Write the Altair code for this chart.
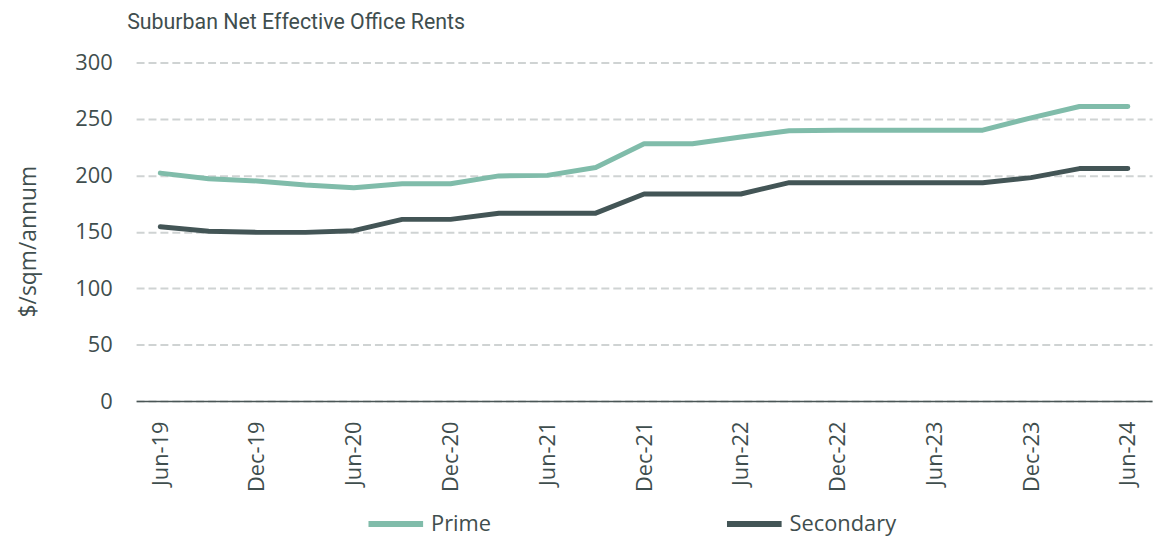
import altair as alt
import pandas as pd

quarters = ["Jun-19", "Sep-19", "Dec-19", "Mar-20", "Jun-20", "Sep-20", "Dec-20",
            "Mar-21", "Jun-21", "Sep-21", "Dec-21", "Mar-22", "Jun-22", "Sep-22",
            "Dec-22", "Mar-23", "Jun-23", "Sep-23", "Dec-23", "Mar-24", "Jun-24"]
prime = [202, 197, 195, 191.5, 189, 192.5, 192.5, 199.5, 200, 207, 228, 228, 234,
         239.5, 240, 240, 240, 240, 251, 261, 261]
secondary = [154.5, 150.5, 149.5, 149.5, 151, 161, 161, 166.5, 166.5, 166.5, 183.5,
             183.5, 183.5, 193.5, 193.5, 193.5, 193.5, 193.5, 198, 206, 206]
shown_labels = quarters[::2]
series_names = ["Prime", "Secondary"]
series_colors = ["#80bcaa", "#435556"]

rows = []
for i, q in enumerate(quarters):
    rows.append({"quarter": q, "series": "Prime", "value": prime[i]})
    rows.append({"quarter": q, "series": "Secondary", "value": secondary[i]})
df = pd.DataFrame(rows)

FONT = "Open Sans"
TXT = "#3f4e4e"

chart = alt.Chart(df).mark_line(strokeWidth=5, strokeCap="round", strokeJoin="round").encode(
    x=alt.X("quarter:O", sort=quarters,
            scale=alt.Scale(type="point", padding=0.5),
            axis=alt.Axis(title=None, values=shown_labels, labelAngle=-90, ticks=False,
                          labelFontSize=22, labelColor=TXT, labelFont=FONT, labelPadding=20,
                          domainColor="#4a5656", domainWidth=1.5, grid=False,
                          labelAlign="right", labelBaseline="middle")),
    y=alt.Y("value:Q", scale=alt.Scale(domain=[0, 300], nice=False),
            axis=alt.Axis(title="$/sqm/annum", values=[0, 50, 100, 150, 200, 250, 300],
                          ticks=False, domain=False, labelFontSize=22, labelColor=TXT,
                          labelFont=FONT, labelPadding=24, titleFont=FONT,
                          titleFontSize=23, titleFontWeight="normal", titleColor=TXT,
                          titlePadding=35, titleY=180, gridColor="#cfd3d3", gridWidth=2,
                          gridDash=[8, 4])),
    color=alt.Color("series:N", sort=series_names,
                    scale=alt.Scale(domain=series_names, range=series_colors),
                    legend=alt.Legend(title=None, orient="none", direction="horizontal",
                                      legendX=231, legendY=434, symbolType="stroke",
                                      symbolStrokeWidth=6, symbolSize=3025,
                                      labelFontSize=22, labelFont=FONT, labelColor=TXT,
                                      columnPadding=225, labelOffset=5)),
).properties(
    width=1023, height=341,
    autosize=alt.AutoSizeParams(type="none"),
    padding={"left": 129, "top": 53, "right": 4, "bottom": 139},
    title=alt.Title("Suburban Net Effective Office Rents", anchor="start", frame="group",
                    dx=-9, fontSize=21.5, font="Roboto", fontWeight="normal", color=TXT,
                    offset=18),
).configure_view(stroke=None)

chart.save("out.html", embed_options={"renderer": "svg", "actions": False})
